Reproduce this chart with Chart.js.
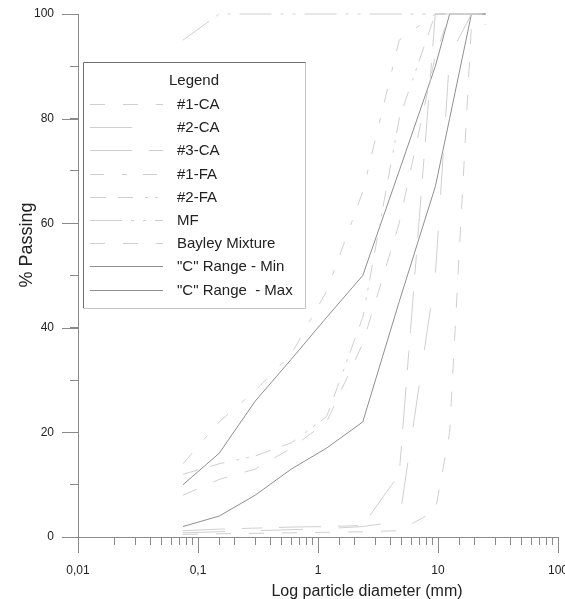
<!DOCTYPE html>
<html>
<head>
<meta charset="utf-8">
<script src="https://cdn.jsdelivr.net/npm/chart.js@4.4.1/dist/chart.umd.min.js"></script>
<style>
html, body { margin: 0; padding: 0; background: #fff; }
#wrap { width: 565px; height: 599px; }
</style>
</head>
<body>
<div id="wrap"><canvas id="gradChart"></canvas></div>
<script>
// sieve sizes (mm) and % passing for every gradation
const sieves = [0.075, 0.15, 0.3, 0.6, 1.18, 2.36, 4.75, 9.5, 12.5, 19, 25];
const ca1 = [0.5, 0.6, 0.7, 0.8, 0.9, 1.0, 1.2, 5, 20, 98, 98];
const ca2 = [0.8, 1.0, 1.2, 1.4, 1.6, 2.0, 3.0, 50, 92, 100, 100];
const ca3 = [1.2, 1.5, 1.7, 1.9, 2.0, 2.2, 12, 100, 100, 100, 100];
const fa1 = [14, 22, 28, 35, 47, 66, 95, 100, 100, 100, 100];
const fa2 = [12, 14, 15.5, 18, 23, 42, 80, 100, 100, 100, 100];
const mf = [95, 100, 100, 100, 100, 100, 100, 100, 100, 100, 100];
const bayley = [8, 11, 13, 17, 22, 37, 60, 92, 100, 100, 100];
const cMin = [2, 4, 8, 13, 17, 22, 45, 67, 80, 100, 100];
const cMax = [10, 16, 26, 34, 42, 50, 70, 90, 100, 100, 100];

const seriesNames = ['#1-CA', '#2-CA', '#3-CA', '#1-FA', '#2-FA', 'MF', 'Bayley Mixture', '"C" Range - Min', '"C" Range  - Max'];
const xTickLabels = ['0,01', '0,1', '1', '10', '100'];
const yTickLabels = ['0', '20', '40', '60', '80', '100'];

const FONT = '"Liberation Sans", Arial, sans-serif';
const LIGHT = '#cfcfcf';
const AXIS = '#8a8a8a';

const toPoints = (vals) => sieves.map((s, i) => ({ x: s, y: vals[i] }));

const mkSet = (label, vals, color, dash) => ({
    label: label,
    data: toPoints(vals),
    borderColor: color,
    borderWidth: 1,
    borderDash: dash,
    pointRadius: 0,
    tension: 0,
    fill: false,
    clip: false
});

const datasets = [
    mkSet(seriesNames[0], ca1, LIGHT, [15, 18]),
    mkSet(seriesNames[1], ca2, LIGHT, [42, 36]),
    mkSet(seriesNames[2], ca3, LIGHT, [42, 17, 20, 17]),
    mkSet(seriesNames[3], fa1, LIGHT, [14, 18, 5, 16]),
    mkSet(seriesNames[4], fa2, LIGHT, [16, 12, 15, 12, 3, 7, 3, 7]),
    mkSet(seriesNames[5], mf, LIGHT, [32, 9, 3, 9, 3, 9]),
    mkSet(seriesNames[6], bayley, LIGHT, [15, 18]),
    mkSet(seriesNames[7], cMin, '#8f8f8f', []),
    mkSet(seriesNames[8], cMax, '#8f8f8f', [])
];

const isPow10 = (v) => Math.abs(Math.log10(v) - Math.round(Math.log10(v))) < 1e-9;

// longer marks on the labelled ticks, plus axis titles
const axisExtras = {
    id: 'axisExtras',
    afterDraw(chart) {
        const ctx = chart.ctx;
        const xs = chart.scales.x, ys = chart.scales.y;
        const area = chart.chartArea;
        ctx.save();
        ctx.strokeStyle = AXIS;
        ctx.lineWidth = 1;
        ctx.beginPath();
        xTickLabels.forEach((t) => {
            const px = Math.round(xs.getPixelForValue(parseFloat(t.replace(',', '.')))) + 0.5;
            ctx.moveTo(px, area.bottom);
            ctx.lineTo(px, area.bottom + 16);
        });
        yTickLabels.forEach((t) => {
            const py = Math.round(ys.getPixelForValue(Number(t))) + 0.5;
            ctx.moveTo(area.left - 16, py);
            ctx.lineTo(area.left, py);
        });
        ctx.stroke();

        ctx.fillStyle = '#222';
        ctx.font = '16px ' + FONT;
        ctx.textAlign = 'center';
        ctx.textBaseline = 'alphabetic';
        ctx.fillText('Log particle diameter (mm)', 367, 596);

        ctx.translate(32, 245);
        ctx.rotate(-Math.PI / 2);
        ctx.font = '18px ' + FONT;
        ctx.fillText('% Passing', 0, 0);
        ctx.restore();
    }
};

// boxed legend inside the plot
const legendBox = {
    id: 'legendBox',
    afterDraw(chart) {
        const ctx = chart.ctx;
        const area = chart.chartArea;
        const bx = area.left + 5, by = area.top + 48, bw = 222, bh = 246;
        ctx.save();
        ctx.fillStyle = '#fff';
        ctx.fillRect(bx, by, bw, bh);
        ctx.lineWidth = 1;
        ctx.strokeStyle = '#c4c4c4';
        ctx.beginPath();
        ctx.moveTo(bx + bw + 0.5, by);
        ctx.lineTo(bx + bw + 0.5, by + bh + 0.5);
        ctx.lineTo(bx + 0.5, by + bh + 0.5);
        ctx.stroke();
        ctx.strokeStyle = '#6e6e6e';
        ctx.beginPath();
        ctx.moveTo(bx + 0.5, by + bh);
        ctx.lineTo(bx + 0.5, by + 0.5);
        ctx.lineTo(bx + bw + 0.5, by + 0.5);
        ctx.stroke();

        ctx.fillStyle = '#222';
        ctx.font = '15px ' + FONT;
        ctx.textBaseline = 'middle';
        ctx.textAlign = 'center';
        ctx.fillText('Legend', bx + 111, by + 19);
        ctx.textAlign = 'left';
        chart.data.datasets.forEach((ds, i) => {
            const yy = Math.round(by + 42 + i * 23.2) + 0.5;
            ctx.strokeStyle = ds.borderColor;
            ctx.setLineDash(ds.borderDash || []);
            ctx.beginPath();
            ctx.moveTo(bx + 7, yy);
            ctx.lineTo(bx + 80, yy);
            ctx.stroke();
            ctx.setLineDash([]);
            ctx.fillText(ds.label, bx + 94, yy);
        });
        ctx.restore();
    }
};

new Chart(document.getElementById('gradChart'), {
    type: 'line',
    data: { datasets: datasets },
    options: {
        responsive: true,
        maintainAspectRatio: false,
        animation: false,
        devicePixelRatio: 1,
        layout: { padding: { top: 14, right: 7, left: 0, bottom: 0 } },
        plugins: { legend: { display: false }, tooltip: { enabled: false } },
        scales: {
            x: {
                type: 'logarithmic',
                min: 0.01,
                max: 100,
                afterFit: (s) => { s.height = 62; s.paddingLeft = 0; s.paddingRight = 0; },
                border: { display: true, color: AXIS },
                grid: { drawOnChartArea: false, drawTicks: true, tickLength: 8, color: AXIS, tickColor: AXIS },
                ticks: {
                    autoSkip: false,
                    maxRotation: 0,
                    padding: 18,
                    color: '#222',
                    font: { family: FONT, size: 12 },
                    callback: (v) => {
                        if (!isPow10(v)) return '';
                        return xTickLabels[Math.round(Math.log10(v)) + 2];
                    }
                }
            },
            y: {
                type: 'linear',
                min: 0,
                max: 100,
                afterFit: (s) => { s.width = 78; s.paddingTop = 0; s.paddingBottom = 0; },
                border: { display: true, color: AXIS },
                grid: { drawOnChartArea: false, drawTicks: true, tickLength: 8, color: AXIS, tickColor: AXIS },
                ticks: {
                    stepSize: 10,
                    padding: 16,
                    color: '#222',
                    font: { family: FONT, size: 12 },
                    callback: (v) => (v % 20 === 0 ? yTickLabels[v / 20] : '')
                }
            }
        }
    },
    plugins: [axisExtras, legendBox]
});
</script>
</body>
</html>
